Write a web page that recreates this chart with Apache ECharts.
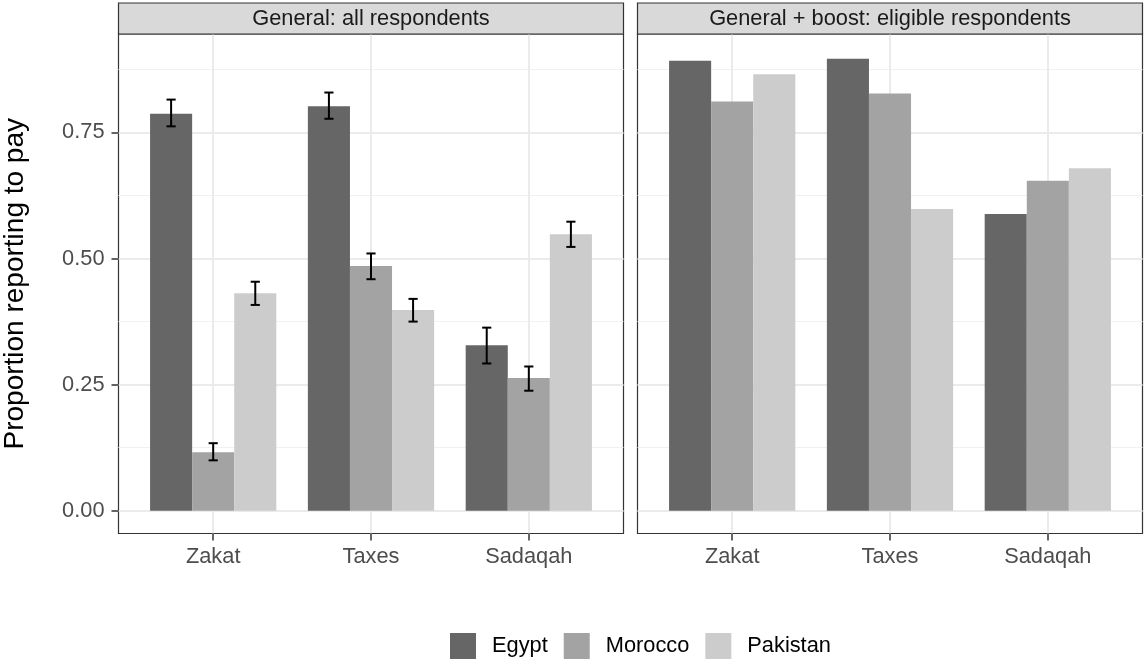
<!DOCTYPE html>
<html>
<head>
<meta charset="utf-8">
<script src="https://cdn.jsdelivr.net/npm/echarts@6/dist/echarts.min.js"></script>
<style>
  html, body { margin: 0; padding: 0; background: #fff; }
  #chart { width: 1144px; height: 661px; }
</style>
</head>
<body>
<div id="chart"></div>
<script>
// ---------------- data ----------------
const categories = ['Zakat', 'Taxes', 'Sadaqah'];
const countries = ['Egypt', 'Morocco', 'Pakistan'];
const panelTitles = ['General: all respondents', 'General + boost: eligible respondents'];
const yTicks = [0, 0.25, 0.5, 0.75];
const yMinorTicks = [0.125, 0.375, 0.625, 0.875];

// Panel 1: General, all respondents (estimate, lower, upper)
const generalEgypt = [0.787, 0.802, 0.328];
const generalEgyptLow = [0.762, 0.777, 0.292];
const generalEgyptHigh = [0.815, 0.829, 0.363];
const generalMorocco = [0.116, 0.485, 0.263];
const generalMoroccoLow = [0.100, 0.459, 0.238];
const generalMoroccoHigh = [0.134, 0.510, 0.286];
const generalPakistan = [0.431, 0.398, 0.548];
const generalPakistanLow = [0.408, 0.375, 0.523];
const generalPakistanHigh = [0.454, 0.420, 0.573];

// Panel 2: General + boost, eligible respondents
const boostEgypt = [0.892, 0.896, 0.588];
const boostMorocco = [0.811, 0.827, 0.654];
const boostPakistan = [0.865, 0.598, 0.679];

// ---------------- layout / style ----------------
const fillColors = ['#666666', '#a3a3a3', '#cccccc'];
const FONT = '"Liberation Sans", Arial, Helvetica, sans-serif';
const TXT = 21.8;
const panelTop = 34, panelBottomPx = 661 - 533.5;
const panelW = 505;
const panelLefts = [118.5, 637.5];
const unit = panelW / 3.2;           // ggplot discrete expansion 0.6 each side
const yMin = -0.045, yMax = 0.945;

const grids = [], xAxes = [], yAxes = [], series = [];

function addPanel(p) {
  const left = panelLefts[p];
  // frame grid (border + horizontal grid lines)
  grids.push({ left: left, width: panelW, top: panelTop, bottom: panelBottomPx,
    show: true, backgroundColor: '#ffffff', borderColor: '#333333', borderWidth: 1.2,
    containLabel: false, outerBoundsMode: 'none' });
  const gFrame = grids.length - 1;
  // category grid (vertical grid lines, bars, labels)
  grids.push({ left: left + unit * 0.6, width: unit * 2, top: panelTop, bottom: panelBottomPx,
    show: false, containLabel: false, outerBoundsMode: 'none' });
  const gCat = grids.length - 1;

  xAxes.push({ type: 'value', gridIndex: gFrame, min: 0, max: 1, show: false });
  xAxes.push({
    type: 'category', gridIndex: gCat, data: categories, boundaryGap: false, position: 'bottom',
    axisLine: { show: false, onZero: false },
    axisTick: { show: true, length: 7, lineStyle: { color: '#333333', width: 1.5 } },
    axisLabel: { show: true, fontSize: TXT, fontFamily: FONT, color: '#4d4d4d', margin: 12, interval: 0 },
    splitLine: { show: true, lineStyle: { color: '#ebebeb', width: 2 } }
  });
  const xCat = xAxes.length - 1;

  const isLeft = p === 0;
  yAxes.push({
    type: 'value', gridIndex: gFrame, min: yMin, max: yMax, position: 'left',
    axisLine: { show: false, onZero: false },
    axisTick: { show: isLeft, length: 7, customValues: yTicks, lineStyle: { color: '#333333', width: 1.5 } },
    axisLabel: { show: isLeft, customValues: yTicks, fontSize: TXT, fontFamily: FONT, color: '#4d4d4d', margin: 14,
      formatter: v => Number(v).toFixed(2) },
    splitLine: { show: true, lineStyle: { color: '#ebebeb', width: 2 } },
    name: isLeft ? 'Proportion reporting to pay' : '',
    nameLocation: 'middle', nameGap: 89,
    nameTextStyle: { fontSize: 28, fontFamily: FONT, color: '#000000' }
  });
  yAxes.push({
    type: 'value', gridIndex: gFrame, min: yMin, max: yMax, position: 'right',
    axisLine: { show: false, onZero: false },
    axisTick: { show: false, customValues: yMinorTicks },
    axisLabel: { show: false, customValues: yMinorTicks },
    splitLine: { show: true, lineStyle: { color: '#f1f1f1', width: 1 } }
  });
  yAxes.push({
    type: 'value', gridIndex: gCat, min: yMin, max: yMax,
    axisLine: { show: false, onZero: false }, axisTick: { show: false }, axisLabel: { show: false },
    splitLine: { show: false }
  });
  const yCat = yAxes.length - 1;
  return { xCat, yCat };
}

const a0 = addPanel(0);
const a1 = addPanel(1);

const generalVals = [generalEgypt, generalMorocco, generalPakistan];
const generalLows = [generalEgyptLow, generalMoroccoLow, generalPakistanLow];
const generalHighs = [generalEgyptHigh, generalMoroccoHigh, generalPakistanHigh];
const boostVals = [boostEgypt, boostMorocco, boostPakistan];

function addBars(vals, axes) {
  countries.forEach((c, k) => {
    series.push({
      type: 'bar', name: c, xAxisIndex: axes.xCat, yAxisIndex: axes.yCat,
      data: vals[k], barWidth: '26.6667%', barGap: '0%', clip: false,
      itemStyle: { color: fillColors[k] }, emphasis: { disabled: true }
    });
  });
}
addBars(generalVals, a0);
addBars(boostVals, a1);

// error bars (panel 1)
const errData = [];
countries.forEach((c, k) => {
  categories.forEach((cat, i) => {
    errData.push([i, generalLows[k][i], generalHighs[k][i], k]);
  });
});
series.push({
  type: 'custom', name: 'ci', xAxisIndex: a0.xCat, yAxisIndex: a0.yCat, clip: false, z: 5,
  encode: { x: 0, y: [1, 2] },
  data: errData,
  renderItem: function (params, api) {
    const cat = api.value(0), lo = api.value(1), hi = api.value(2), k = api.value(3);
    const band = api.size([1, 0])[0];
    const off = (k - 1) * band * 0.8 / 3;
    const pHi = api.coord([cat, hi]);
    const pLo = api.coord([cat, lo]);
    const x = pHi[0] + off;
    const cap = band * 0.029;
    const st = { stroke: '#000000', lineWidth: 2 };
    return { type: 'group', children: [
      { type: 'line', shape: { x1: x, y1: pHi[1], x2: x, y2: pLo[1] }, style: st },
      { type: 'line', shape: { x1: x - cap, y1: pHi[1], x2: x + cap, y2: pHi[1] }, style: st },
      { type: 'line', shape: { x1: x - cap, y1: pLo[1], x2: x + cap, y2: pLo[1] }, style: st }
    ]};
  }
});

// facet strips
const graphics = [];
panelTitles.forEach((t, p) => {
  graphics.push({ type: 'rect', z: 10, shape: { x: panelLefts[p], y: 3, width: panelW, height: panelTop - 3 },
    style: { fill: '#d9d9d9', stroke: '#333333', lineWidth: 1.2 } });
  graphics.push({ type: 'text', z: 11, x: panelLefts[p] + panelW / 2, y: 18.5,
    style: { text: t, fontSize: TXT, fontFamily: FONT, fill: '#1a1a1a',
      align: 'center', verticalAlign: 'middle', textAlign: 'center', textVerticalAlign: 'middle' } });
});

const chart = echarts.init(document.getElementById('chart'), null, { renderer: 'canvas' });
chart.setOption({
  animation: false,
  backgroundColor: '#ffffff',
  grid: grids,
  xAxis: xAxes,
  yAxis: yAxes,
  series: series,
  graphic: graphics,
  legend: {
    data: countries, left: 450, top: 633, orient: 'horizontal', padding: 0,
    itemWidth: 26, itemHeight: 26, itemGap: 16, icon: 'rect',
    selectedMode: false,
    textStyle: { fontSize: TXT, fontFamily: FONT, color: '#000000', padding: [0, 0, 0, 11] }
  },
  tooltip: { show: false }
});
</script>
</body>
</html>
